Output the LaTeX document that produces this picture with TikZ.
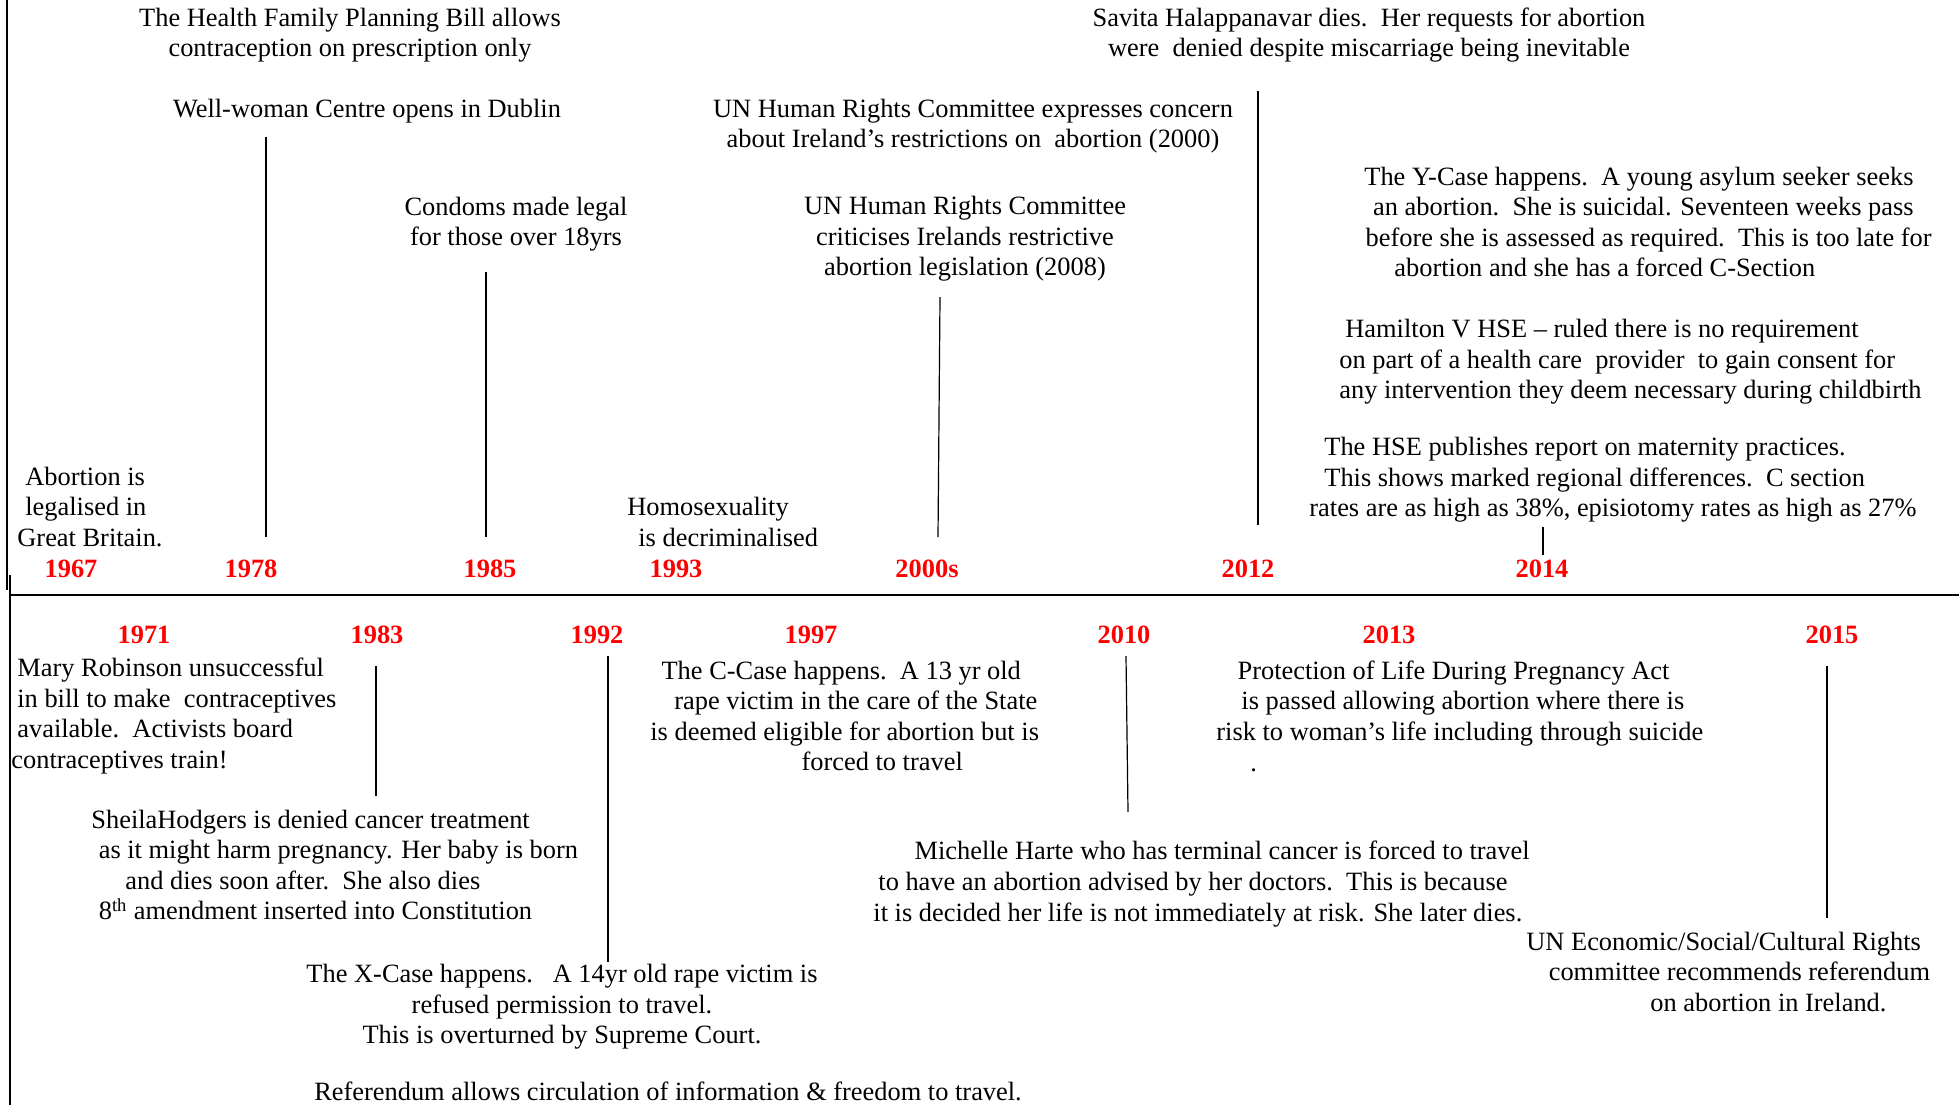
\documentclass[tikz,border=0pt]{standalone}
\usepackage{fontspec}
\setmainfont{Liberation Serif}
\begin{document}
\begin{tikzpicture}[x=0.5pt,y=-0.5pt,
  txt/.style={align=center, inner sep=0pt, font=\fontsize{13.2}{15.3}\selectfont},
  ltxt/.style={align=left, anchor=west, inner sep=0pt, font=\fontsize{13.2}{15.3}\selectfont},
  yr/.style={text=red, inner sep=0pt, font=\fontsize{13.2}{15.3}\selectfont\bfseries},
  tick/.style={line width=0.6pt},
  axis/.style={line width=1.3pt}]
\useasboundingbox (0,0) rectangle (1959,1105);

% frame lines
\coordinate (lv1) at (7,0);   \coordinate (lv2) at (7,590);
\coordinate (lv3) at (10,575); \coordinate (lv4) at (10,1105);
\coordinate (ax1) at (10,595); \coordinate (ax2) at (1959,595);
\draw[tick] (lv1) -- (lv2);
\draw[tick] (lv3) -- (lv4);
\draw[axis] (ax1) -- (ax2);

% top texts
\node[txt] (health) at (350,35) {The Health Family Planning Bill allows\\contraception on prescription only};
\node[txt] (wellwoman) at (367,111) {Well-woman Centre opens in Dublin};
\node[txt] (condoms) at (516,224) {Condoms made legal\\for those over 18yrs};
\node[txt] (un2000) at (973,126) {UN Human Rights Committee expresses concern\\about Ireland’s restrictions on\ \ abortion (2000)};
\node[txt] (un2008) at (965,239) {UN Human Rights Committee\\criticises Irelands restrictive\\abortion legislation (2008)};
\node[txt] (savita) at (1369,35) {Savita Halappanavar dies.\ \ Her requests for abortion\\were\ \ denied despite miscarriage being inevitable};
\node[ltxt] (ycase) at (1364,222) {The Y-Case happens.\ \ A young asylum seeker seeks\\\hspace*{4.4pt}an abortion.\ \ She is suicidal. Seventeen weeks pass\\\hspace*{0.6pt}before she is assessed as required.\ \ This is too late for\\\hspace*{15pt}abortion and she has a forced C-Section};
\node[ltxt] (hamilton) at (1339,362) {\hspace*{3pt}Hamilton V HSE – ruled there is no requirement\\on part of a health care\ \ provider\ \ to gain consent for\\any intervention they deem necessary during childbirth};
\node[ltxt] (hse) at (1309,480) {\hspace*{7.5pt}The HSE publishes report on maternity practices.\\\hspace*{7.5pt}This shows marked regional differences.\ \ C section\\rates are as high as 38\%, episiotomy rates as high as 27\%};
\node[ltxt] (abortion) at (17,507) {\hspace*{4pt}Abortion is\\\hspace*{4pt}legalised in\\Great Britain.};
\node[ltxt] (homo) at (627,522) {Homosexuality\\\hspace*{5.5pt}is decriminalised};

% top years
\node[yr] (y1967) at (71,569) {1967};
\node[yr] (y1978) at (251,569) {1978};
\node[yr] (y1985) at (490,569) {1985};
\node[yr] (y1993) at (676,569) {1993};
\node[yr] (y2000s) at (927,569) {2000s};
\node[yr] (y2012) at (1248,569) {2012};
\node[yr] (y2014) at (1542,569) {2014};

% bottom years
\node[yr] (y1971) at (144,635) {1971};
\node[yr] (y1983) at (377,635) {1983};
\node[yr] (y1992) at (597,635) {1992};
\node[yr] (y1997) at (811,635) {1997};
\node[yr] (y2010) at (1124,635) {2010};
\node[yr] (y2013) at (1389,635) {2013};
\node[yr] (y2015) at (1832,635) {2015};

% bottom texts
\node[ltxt] (mary) at (11,716) {\hspace*{3pt}Mary Robinson unsuccessful\\\hspace*{3pt}in bill to make\ \ contraceptives\\\hspace*{3pt}available.\ \ Activists board\\contraceptives train!};
\node[ltxt] (sheila) at (91,865) {SheilaHodgers is denied cancer treatment\\\hspace*{3.7pt}as it might harm pregnancy. Her baby is born\\\hspace*{17pt}and dies soon after.\ \ She also dies\\\hspace*{3.7pt}8\textsuperscript{th} amendment inserted into Constitution};
\node[txt] (xcase) at (562,1007) {The X-Case happens.\ \ \ A 14yr old rape victim is\\refused permission to travel.\\This is overturned by Supreme Court.};
\node[txt] (referendum) at (668,1091) {Referendum allows circulation of information \& freedom to travel.};
\node[ltxt] (ccase) at (650,716) {\hspace*{5.6pt}The C-Case happens.\ \ A 13 yr old\\\hspace*{12pt}rape victim in the care of the State\\is deemed eligible for abortion but is\\\hspace*{75.6pt}forced to travel};
\node[ltxt] (michelle) at (873,884) {\hspace*{20.6pt}Michelle Harte who has terminal cancer is forced to travel\\\hspace*{2.5pt}to have an abortion advised by her doctors.\ \ This is because\\it is decided her life is not immediately at risk. She later dies.};
\node[ltxt] (protection) at (1216,716) {\hspace*{10.6pt}Protection of Life During Pregnancy Act\\\hspace*{12.5pt}is passed allowing abortion where there is\\risk to woman’s life including through suicide\\\hspace*{17pt}.};
\node[ltxt] (uneco) at (1526,972) {UN Economic/Social/Cultural Rights\\\hspace*{11.2pt}committee recommends referendum\\\hspace*{62pt}on abortion in Ireland.};

% connectors
\coordinate (c78a) at (266,137);  \coordinate (c78b) at (266,537);
\coordinate (c85a) at (486,272);  \coordinate (c85b) at (486,537);
\coordinate (c00a) at (940,297);  \coordinate (c00b) at (938,537);
\coordinate (c12a) at (1258,91);  \coordinate (c12b) at (1258,525);
\coordinate (c14a) at (1543,527); \coordinate (c14b) at (1543,555);
\coordinate (c83a) at (376,666);  \coordinate (c83b) at (376,796);
\coordinate (c92a) at (608,656);  \coordinate (c92b) at (608,962);
\coordinate (c10a) at (1126,656); \coordinate (c10b) at (1128,812);
\coordinate (c15a) at (1827,666); \coordinate (c15b) at (1827,918);
\draw[tick] (c78a) -- (c78b);
\draw[tick] (c85a) -- (c85b);
\draw[tick] (c00a) -- (c00b);
\draw[tick] (c12a) -- (c12b);
\draw[tick] (c14a) -- (c14b);
\draw[tick] (c83a) -- (c83b);
\draw[tick] (c92a) -- (c92b);
\draw[tick] (c10a) -- (c10b);
\draw[tick] (c15a) -- (c15b);
\end{tikzpicture}
\end{document}
